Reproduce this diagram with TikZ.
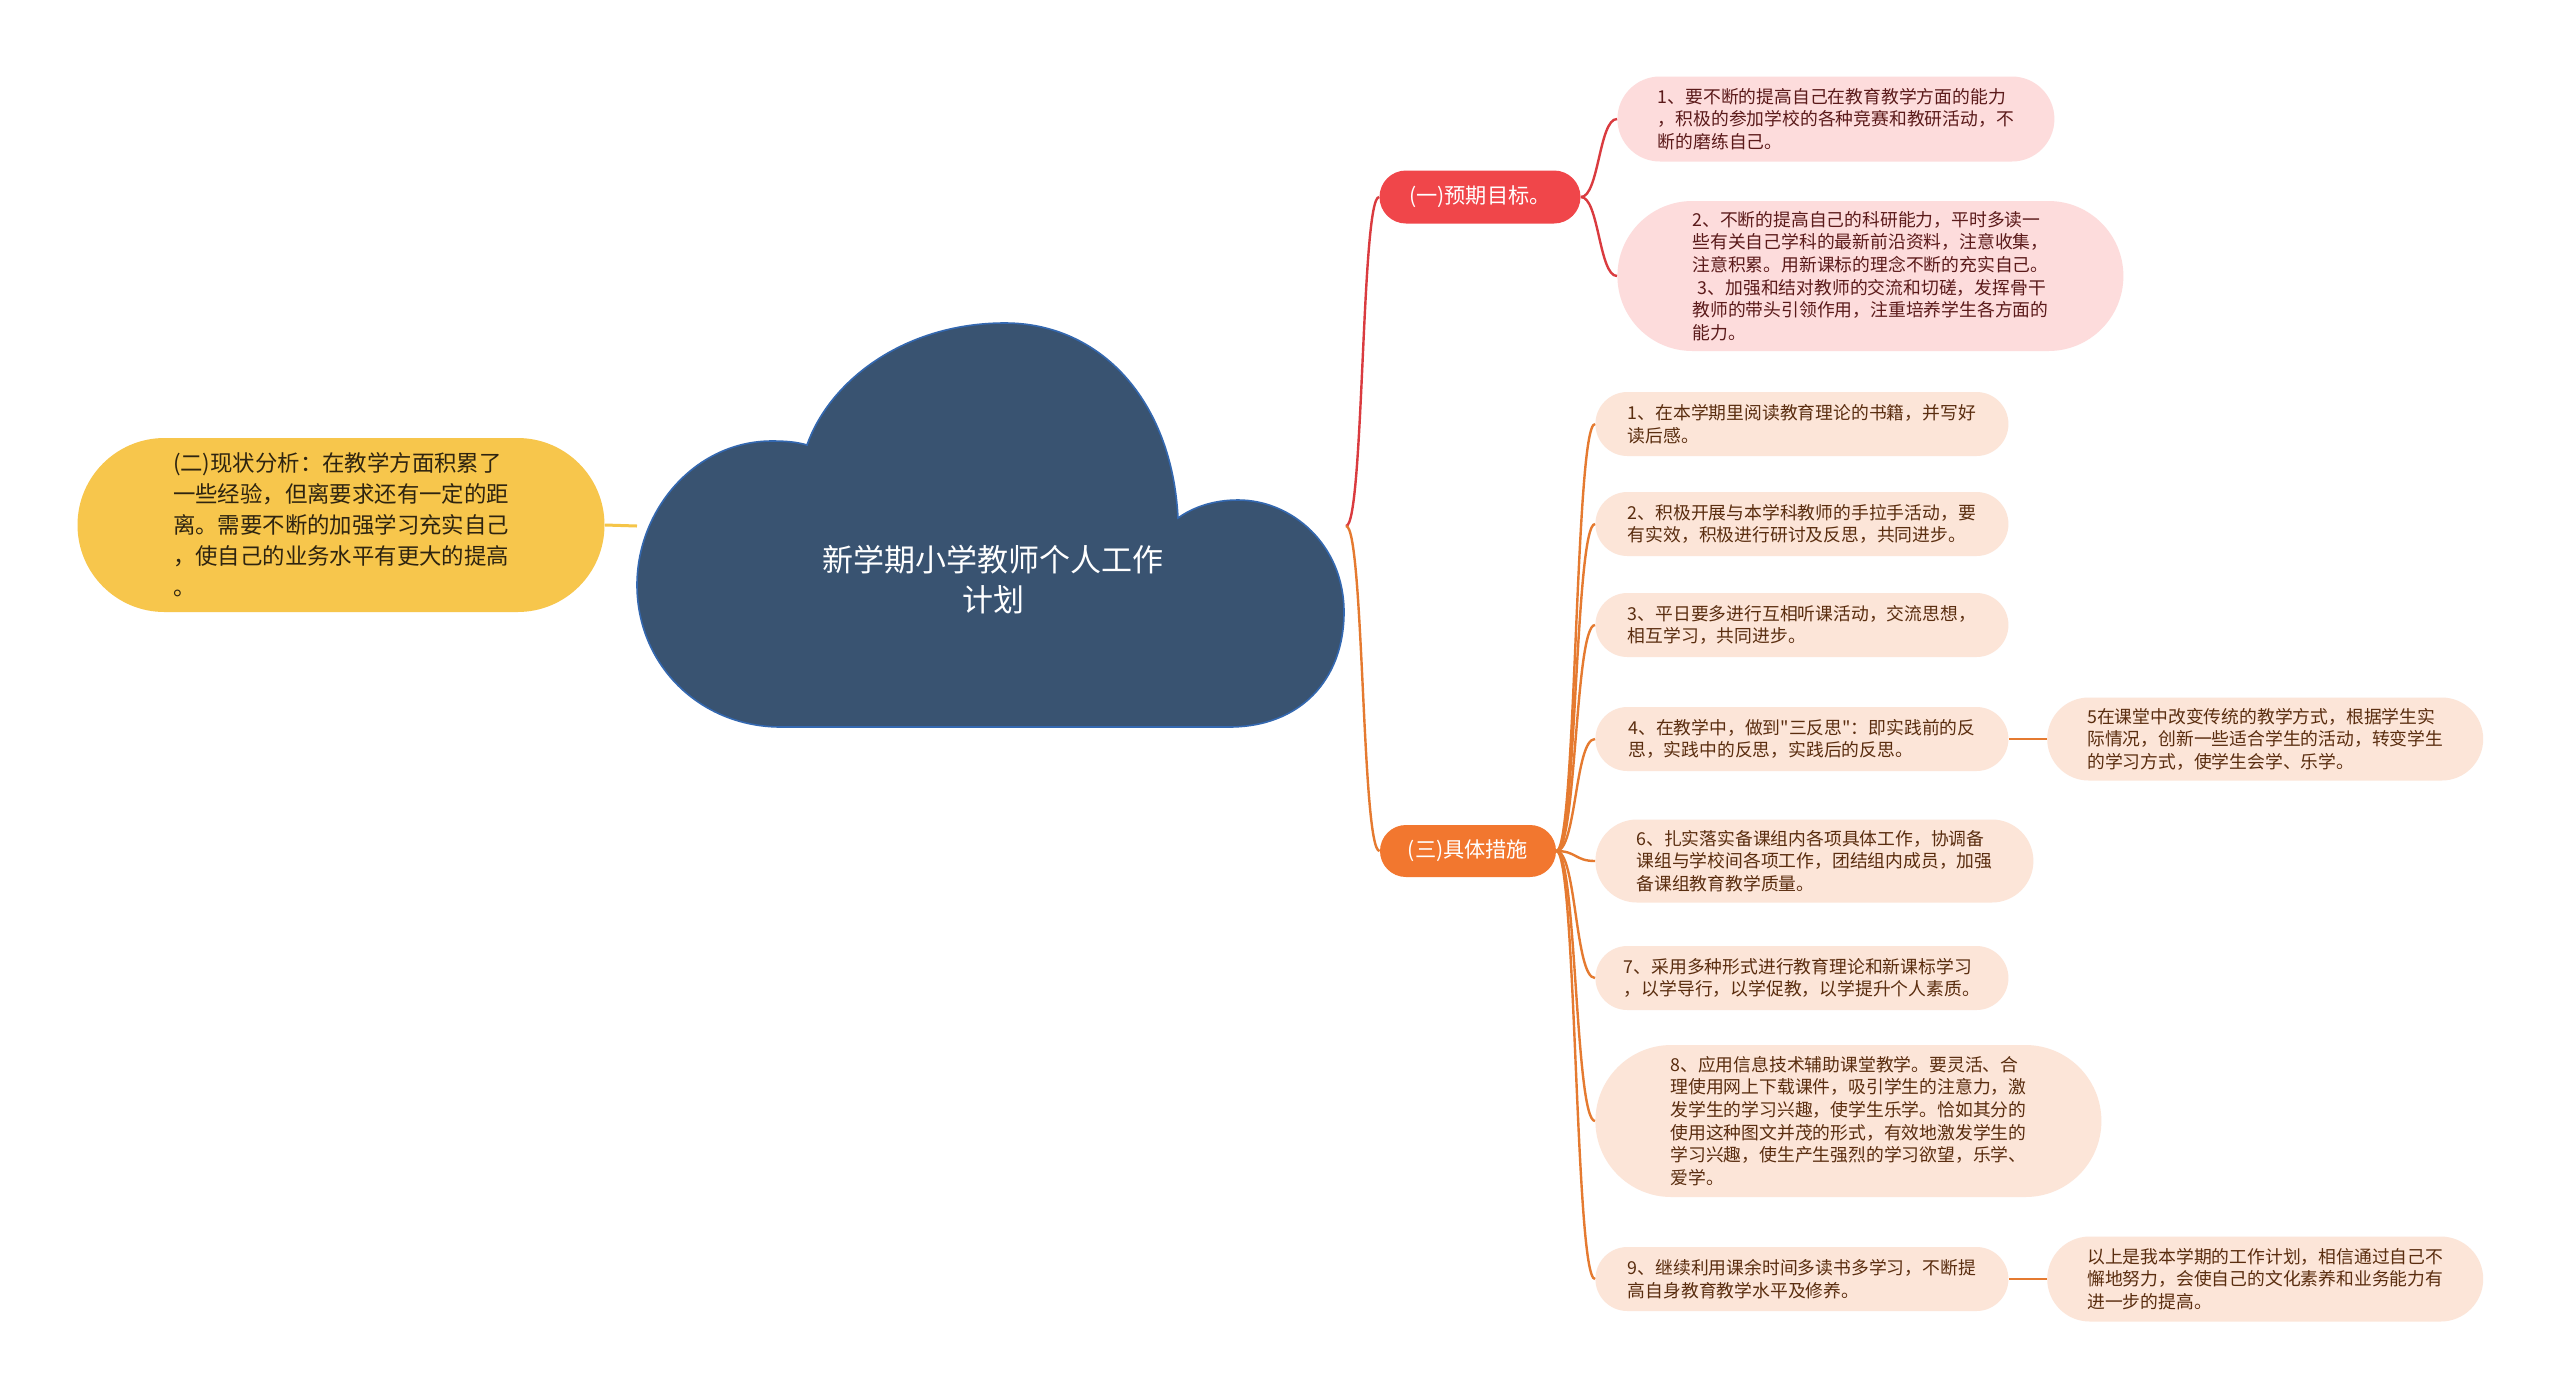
\documentclass[tikz,border=0pt]{standalone}
\usepackage{fontspec}
\setmainfont{Noto Sans CJK SC}
\newfontfamily\cjk{Noto Sans CJK SC}
\usetikzlibrary{positioning}

\definecolor{cloudcol}{HTML}{395371}
\definecolor{cloudedge}{HTML}{3468B0}
\definecolor{yellowcol}{HTML}{F7C64C}
\definecolor{redcol}{HTML}{F0464A}
\definecolor{orangecol}{HTML}{F2772F}
\definecolor{goalfill}{HTML}{FDDCDC}
\definecolor{taskfill}{HTML}{FCE5D8}
\definecolor{goaltext}{HTML}{5B1A1A}
\definecolor{tasktext}{HTML}{5A2D0F}
\definecolor{statetext}{HTML}{2E2410}
\definecolor{redwire}{HTML}{DA3B3F}
\definecolor{orangewire}{HTML}{E57A30}
\definecolor{yellowwire}{HTML}{F5C548}

\begin{document}
\begin{tikzpicture}[
    x=0.5pt, y=-0.5pt,
    goal/.style={rectangle, fill=goalfill, text=goaltext, align=left, inner sep=0pt, anchor=west, font=\cjk\fontsize{8.9}{11.3}\selectfont},
    task/.style={rectangle, fill=taskfill, text=tasktext, align=left, inner sep=0pt, anchor=west, font=\cjk\fontsize{8.9}{11.3}\selectfont, minimum width=206.5pt, minimum height=32pt, rounded corners=16pt},
    topic/.style={rectangle, text=white, inner sep=0pt, font=\cjk\fontsize{10.6}{12}\selectfont},
    redbranch/.style={draw=redwire, line width=1.2pt},
    orangebranch/.style={draw=orangewire, line width=1.2pt},
    yellowbranch/.style={draw=yellowwire, line width=1.5pt}
]
\useasboundingbox[fill=white] (0,0) rectangle (2560,1399);

% central cloud
\filldraw[fill=cloudcol, draw=cloudedge, line width=0.8pt]
    (781,727) -- (1229,727)
    .. controls (1300,727) and (1344,680) .. (1344,612)
    .. controls (1344,545) and (1292,500) .. (1238,500)
    .. controls (1212,500) and (1192,508) .. (1178,518)
    .. controls (1172,400) and (1100,323) .. (1005,323)
    .. controls (905,323) and (830,380) .. (807,445)
    .. controls (797,442) and (786,441) .. (772,441)
    .. controls (695,441) and (637,510) .. (637,585)
    .. controls (637,665) and (700,727) .. (781,727) -- cycle;
\node[text=white, align=center, inner sep=0pt, font=\cjk\fontsize{15.5}{20}\selectfont] (title) at (993,580) {新学期小学教师个人工作\\计划};
\coordinate (cloudR) at (1346,526);
\coordinate (cloudL) at (637,526);

% left branch
\node[rectangle, fill=yellowcol, text=statetext, align=left, inner sep=0pt, minimum width=263.5pt, minimum height=87pt, rounded corners=43.5pt, font=\cjk\fontsize{11.2}{15.5}\selectfont] (state) at (341,525) {(二)现状分析：在教学方面积累了\\一些经验，但离要求还有一定的距\\离。需要不断的加强学习充实自己\\，使自己的业务水平有更大的提高\\。\hspace*{13em}};

% main topics
\node[topic, fill=redcol, minimum width=100.5pt, minimum height=26.5pt, rounded corners=13.25pt] (goals) at (1480,197) {(一)预期目标。};
\node[topic, fill=orangecol, minimum width=88pt, minimum height=26pt, rounded corners=13pt] (measures) at (1468,851) {(三)具体措施};

% goals
\node[goal, minimum width=218.5pt, minimum height=42.5pt, rounded corners=21.25pt] (g1) at (1617,119) {1、要不断的提高自己在教育教学方面的能力\\，积极的参加学校的各种竞赛和教研活动，不\\断的磨练自己。};
\node[goal, minimum width=253pt, minimum height=75pt, rounded corners=37.5pt] (g2) at (1617,276) {2、不断的提高自己的科研能力，平时多读一\\些有关自己学科的最新前沿资料，注意收集，\\注意积累。用新课标的理念不断的充实自己。\\\hspace*{0.3em}3、加强和结对教师的交流和切磋，发挥骨干\\教师的带头引领作用，注重培养学生各方面的\\能力。};

% measures
\node[task] (m1) at (1595,424) {1、在本学期里阅读教育理论的书籍，并写好\\读后感。};
\node[task] (m2) at (1595,524) {2、积极开展与本学科教师的手拉手活动，要\\有实效，积极进行研讨及反思，共同进步。};
\node[task] (m3) at (1595,625) {3、平日要多进行互相听课活动，交流思想，\\相互学习，共同进步。};
\node[task] (m4) at (1595,739) {4、在教学中，做到"三反思"：即实践前的反\\思，实践中的反思，实践后的反思。};
\node[task, minimum width=219pt, minimum height=41.5pt, rounded corners=20.75pt] (m6) at (1595,861) {6、扎实落实备课组内各项具体工作，协调备\\课组与学校间各项工作，团结组内成员，加强\\备课组教育教学质量。};
\node[task] (m7) at (1595,978) {7、采用多种形式进行教育理论和新课标学习\\，以学导行，以学促教，以学提升个人素质。};
\node[task, minimum width=253pt, minimum height=76pt, rounded corners=38pt] (m8) at (1595,1121) {8、应用信息技术辅助课堂教学。要灵活、合\\理使用网上下载课件，吸引学生的注意力，激\\发学生的学习兴趣，使学生乐学。恰如其分的\\使用这种图文并茂的形式，有效地激发学生的\\学习兴趣，使生产生强烈的学习欲望，乐学、\\爱学。};
\node[task] (m9) at (1595,1279) {9、继续利用课余时间多读书多学习，不断提\\高自身教育教学水平及修养。};
\node[task, minimum width=218pt, minimum height=41.5pt, rounded corners=20.75pt, right=19pt of m4] (m5) {5在课堂中改变传统的教学方式，根据学生实\\际情况，创新一些适合学生的活动，转变学生\\的学习方式，使学生会学、乐学。};
\node[task, minimum width=218pt, minimum height=42.5pt, rounded corners=21.25pt, right=19pt of m9] (m10) {以上是我本学期的工作计划，相信通过自己不\\懈地努力，会使自己的文化素养和业务能力有\\进一步的提高。};

% connectors
\draw[yellowbranch] (state.east) -- (cloudL);
\draw[redbranch] (cloudR) .. controls +(18,0) and +(-18,0) .. (goals.west);
\draw[orangebranch] (cloudR) .. controls +(18,0) and +(-18,0) .. (measures.west);
\foreach \g in {g1,g2}
    \draw[redbranch] (goals.east) .. controls +(18,0) and +(-18,0) .. (\g.west);
\foreach \m in {m1,m2,m3,m4,m6,m7,m8,m9}
    \draw[orangebranch] (measures.east) .. controls +(20,0) and +(-20,0) .. (\m.west);
\draw[orangebranch] (m4.east) -- (m5.west);
\draw[orangebranch] (m9.east) -- (m10.west);

\end{tikzpicture}
\end{document}
